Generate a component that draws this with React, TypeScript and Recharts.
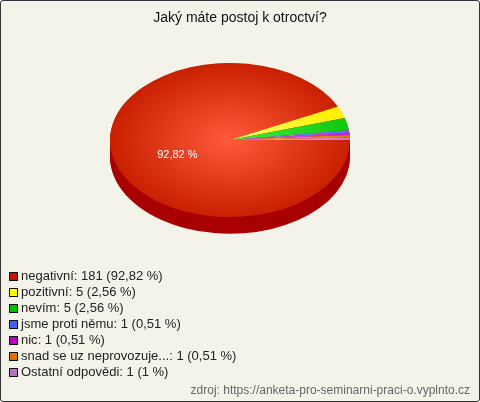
import { PieChart, Pie, Cell } from 'recharts';

const labels = ['negativní', 'pozitivní', 'nevím', 'jsme proti němu', 'nic', 'snad se uz neprovozuje...', 'Ostatní odpovědi'];
const counts = [181, 5, 5, 1, 1, 1, 1];
const percents = ['92,82', '2,56', '2,56', '0,51', '0,51', '0,51', '1'];
const colors = ['#c82000', '#ffee00', '#10c810', '#5078ff', '#c020dc', '#e87800', '#c878c8'];
const lightColors = ['#ff5a3c', '#ffff60', '#40f040', '#90b0ff', '#f070ff', '#ffb040', '#f0b0f0'];
const legendColors = ['#c01800', '#ffff00', '#00c000', '#4060ff', '#c000c0', '#e07000', '#c070c0'];

const data = labels.map((name, i) => ({ name, value: counts[i] }));

const SCALE_Y = 0.642;
const R = 120;
const sideOffsets = [26, 24, 22, 20, 18, 16, 14, 12, 10, 8, 6, 4, 2];

function renderLabel(props: any) {
  const { cx, cy, midAngle, index } = props;
  if (index !== 0) return null;
  const rad = (Math.PI / 180) * midAngle;
  const x = cx + 54 * Math.cos(rad);
  const y = cy - 54 * Math.sin(rad) + 9;
  return (
    <text
      x={x}
      y={y}
      fill="#ffffff"
      fontSize={11}
      textAnchor="middle"
      dominantBaseline="central"
      transform={`translate(${x},${y}) scale(1,${1 / SCALE_Y}) translate(${-x},${-y})`}
    >
      {percents[0]} %
    </text>
  );
}

export default function App() {
  return (
    <div
      style={{
        position: 'fixed',
        left: 0,
        top: 0,
        width: 478,
        height: 400,
        background: '#f4f3ea',
        border: '1px solid #333',
        borderRadius: 3,
        fontFamily: '"Liberation Sans", Arial, sans-serif',
        overflow: 'hidden',
      }}
    >
      <div style={{ position: 'absolute', left: 0, top: 8, width: 478, textAlign: 'center', fontSize: 14, color: '#111' }}>
        Jaký máte postoj k otroctví?
      </div>

      <div
        style={{
          position: 'absolute',
          left: 109,
          top: 62,
          width: 240,
          height: 280,
          transform: `scaleY(${SCALE_Y})`,
          transformOrigin: 'top left',
        }}
      >
        <PieChart width={240} height={280} margin={{ top: 0, right: 0, bottom: 0, left: 0 }}>
          <defs>
            {colors.map((c, i) => (
              <radialGradient key={i} id={`g${i}`} cx="120" cy="120" r="120" gradientUnits="userSpaceOnUse" fx="120" fy="120">
                <stop offset="0%" stopColor={lightColors[i]} />
                <stop offset="100%" stopColor={c} />
              </radialGradient>
            ))}
          </defs>
          {sideOffsets.map((off) => (
            <Pie
              key={off}
              data={data}
              dataKey="value"
              cx={120}
              cy={120 + off}
              outerRadius={R}
              startAngle={0}
              endAngle={-360}
              stroke="none"
              isAnimationActive={false}
            >
              {data.map((_, i) => (
                <Cell key={i} fill="#a80000" />
              ))}
            </Pie>
          ))}
          <Pie
            data={data}
            dataKey="value"
            cx={120}
            cy={120}
            outerRadius={R}
            startAngle={0}
            endAngle={-360}
            stroke="none"
            label={renderLabel}
            labelLine={false}
            isAnimationActive={false}
          >
            {data.map((_, i) => (
              <Cell key={i} fill={`url(#g${i})`} />
            ))}
          </Pie>
        </PieChart>
      </div>

      <div style={{ position: 'absolute', left: 8, top: 267, fontSize: 13, color: '#222', lineHeight: '16px' }}>
        {labels.map((name, i) => (
          <div key={name} style={{ display: 'flex', alignItems: 'center', whiteSpace: 'nowrap' }}>
            <span
              style={{
                display: 'inline-block',
                width: 7,
                height: 7,
                background: legendColors[i],
                border: '1px solid #111',
                marginRight: 3,
              }}
            />
            {name}: {counts[i]} ({percents[i]} %)
          </div>
        ))}
      </div>

      <div style={{ position: 'absolute', right: 9, top: 382, fontSize: 12, color: '#666' }}>
        zdroj: https://anketa-pro-seminarni-praci-o.vyplnto.cz
      </div>
    </div>
  );
}
